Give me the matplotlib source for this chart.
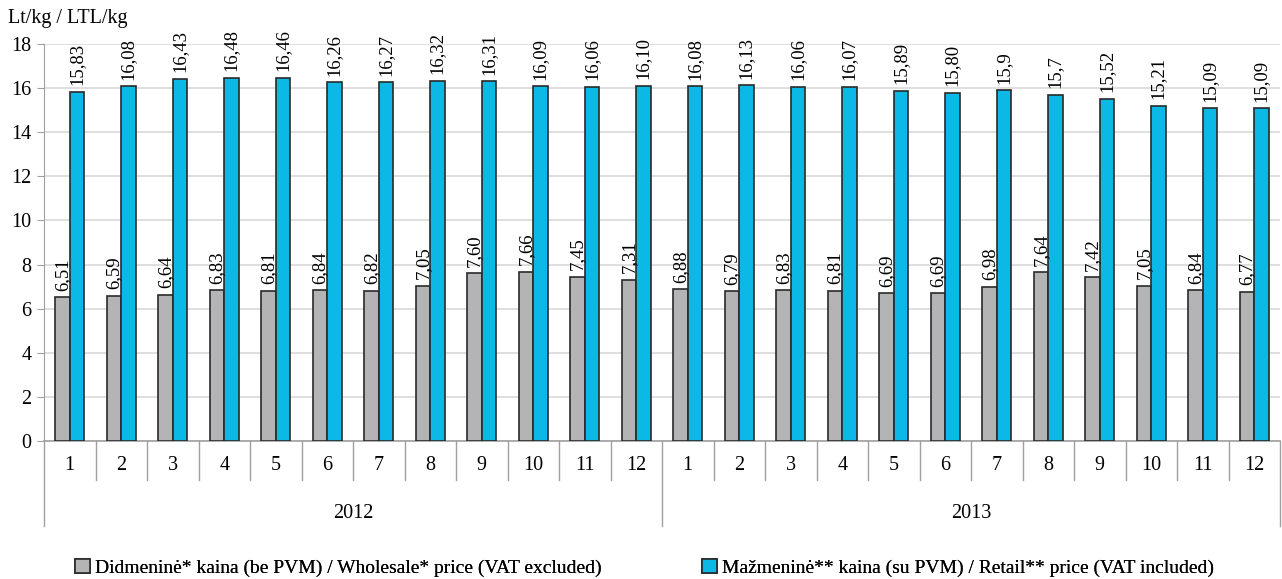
import matplotlib.pyplot as plt
import matplotlib.transforms as mtransforms
from matplotlib.patches import Patch
import numpy as np

plt.rcParams['font.family'] = ['Liberation Serif', 'DejaVu Serif']

months = [str(m) for m in range(1, 13)] * 2
years = ["2012", "2013"]
wholesale = [6.51, 6.59, 6.64, 6.83, 6.81, 6.84, 6.82, 7.05, 7.60, 7.66, 7.45, 7.31,
             6.88, 6.79, 6.83, 6.81, 6.69, 6.69, 6.98, 7.64, 7.42, 7.05, 6.84, 6.77]
retail = [15.83, 16.08, 16.43, 16.48, 16.46, 16.26, 16.27, 16.32, 16.31, 16.09, 16.06, 16.10,
          16.08, 16.13, 16.06, 16.07, 15.89, 15.80, 15.9, 15.7, 15.52, 15.21, 15.09, 15.09]
wholesale_labels = ["6,51", "6,59", "6,64", "6,83", "6,81", "6,84", "6,82", "7,05", "7,60", "7,66", "7,45", "7,31",
                    "6,88", "6,79", "6,83", "6,81", "6,69", "6,69", "6,98", "7,64", "7,42", "7,05", "6,84", "6,77"]
retail_labels = ["15,83", "16,08", "16,43", "16,48", "16,46", "16,26", "16,27", "16,32", "16,31", "16,09", "16,06", "16,10",
                 "16,08", "16,13", "16,06", "16,07", "15,89", "15,80", "15,9", "15,7", "15,52", "15,21", "15,09", "15,09"]

fig = plt.figure(figsize=(12.82, 5.79), dpi=100)
ax = fig.add_axes([44 / 1282, 1 - 441 / 579, 1236 / 1282, (441 - 44) / 579])

x = np.arange(len(months))
w = 0.28
gray = "#b4b4b6"
blue = "#0cb8e6"
edge = "#2a2a2a"
ax.bar(x - w / 2, wholesale, w, color=gray, edgecolor=edge, linewidth=1.2, zorder=3)
ax.bar(x + w / 2, retail, w, color=blue, edgecolor=edge, linewidth=1.2, zorder=3)

for i in range(len(x)):
    ax.text(x[i] - w / 2, wholesale[i] + 0.3, wholesale_labels[i], rotation=90,
            ha="center", va="bottom", fontsize=13.5)
    ax.text(x[i] + w / 2, retail[i] + 0.3, retail_labels[i], rotation=90,
            ha="center", va="bottom", fontsize=13.5)

ax.set_xlim(-0.5, len(x) - 0.5)
ax.set_ylim(0, 18)
ax.set_yticks(range(0, 19, 2))
ax.tick_params(axis="y", labelsize=14.5, length=5, color="#a0a0a0", pad=4)
ax.set_xticks([])
ax.grid(axis="y", color="#d9d9d9", linewidth=1.2, zorder=0)
for s in ["top", "right"]:
    ax.spines[s].set_visible(False)
ax.spines["left"].set_color("#a0a0a0")
ax.spines["bottom"].set_color("#a0a0a0")
ax.spines["bottom"].set_linewidth(1.2)

trans = mtransforms.blended_transform_factory(ax.transData, ax.transAxes)
# month separators and labels
for i in range(len(x) + 1):
    xb = i - 0.5
    bottom = -0.213 if i % 12 == 0 else -0.098
    ax.plot([xb, xb], [0, bottom], transform=trans, color="#a0a0a0",
            linewidth=1, clip_on=False)
for i, m in enumerate(months):
    ax.text(x[i], -0.062, m, transform=trans, ha="center", va="center", fontsize=14.5)
for j, yr in enumerate(years):
    ax.text(j * 12 + 5.5, -0.182, yr, transform=trans, ha="center", va="center", fontsize=14.5)

fig.text(8 / 1282, 1 - 18 / 579, "Lt/kg / LTL/kg", ha="left", va="center", fontsize=14.5)

names = ["Didmeninė* kaina (be PVM) / Wholesale* price (VAT excluded)",
         "Mažmeninė** kaina (su PVM) / Retail** price (VAT included)"]
for color, name, xpos in [(gray, names[0], 75), (blue, names[1], 702)]:
    leg = fig.legend([Patch(facecolor=color, edgecolor=edge, linewidth=1.2)], [name],
                     loc="center left", bbox_to_anchor=(xpos / 1282, 1 - 568 / 579),
                     frameon=False, fontsize=14, handlelength=0.75, handleheight=0.75,
                     handletextpad=0.3, borderaxespad=0, borderpad=0)
    fig.add_artist(leg)

fig.savefig("out.png", dpi=100)
